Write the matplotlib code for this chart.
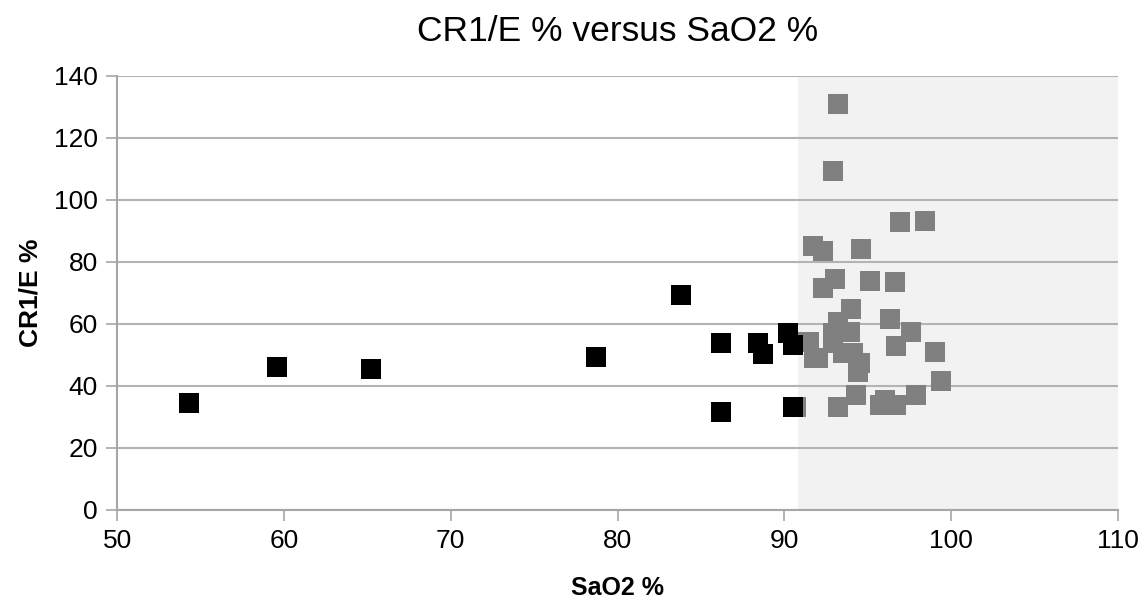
import matplotlib
matplotlib.use("Agg")
import matplotlib.pyplot as plt

plt.rcParams['font.family'] = ['Liberation Sans', 'DejaVu Sans']

# Group with SaO2 <= ~90 (black)
low_sao2 = [54.3, 59.6, 65.2, 78.7, 83.8, 86.2, 88.4, 88.7, 90.2, 90.5, 86.2, 90.5]
low_cr1e = [34.5, 46.1, 45.5, 49.4, 69.2, 53.9, 53.9, 50.3, 57.1, 53.2, 31.6, 33.2]

# Group with SaO2 > ~90 (gray)
high_sao2 = [93.2, 92.9, 96.9, 98.4, 91.7, 92.3, 94.6, 93.0, 92.3, 95.1, 96.6,
             94.0, 93.2, 96.3, 93.9, 92.9, 97.6, 91.5, 92.9, 96.7, 92.0, 93.5,
             94.1, 94.5, 94.4, 99.0, 99.4, 94.3, 93.2, 96.0, 96.7, 97.9, 95.7,
             90.7, 91.3, 91.8]
high_cr1e = [131.0, 109.4, 92.9, 93.2, 85.2, 83.5, 84.2, 74.5, 71.6, 73.9, 73.5,
             64.8, 60.6, 61.6, 57.4, 57.0, 57.4, 54.2, 53.9, 52.9, 49.0, 50.6,
             50.6, 47.4, 44.5, 51.0, 41.6, 37.1, 33.2, 35.5, 33.9, 37.1, 33.9,
             33.2, 54.0, 49.0]

shade_start = 90.8
x_ticks = [50, 60, 70, 80, 90, 100, 110]
y_ticks = [0, 20, 40, 60, 80, 100, 120, 140]

fig = plt.figure(figsize=(11.48, 6.02), dpi=100)
ax = fig.add_axes([0.102, 0.153, 0.872, 0.721])

ax.axvspan(shade_start, 110, color='#f2f2f2', zorder=0, lw=0)
for yv in y_ticks:
    ax.axhline(yv, color='#b3b3b3', lw=1.5, zorder=1)

ax.plot(high_sao2, high_cr1e, linestyle='none', marker='s', markersize=14,
        color='#808080', markeredgewidth=0, zorder=3)
ax.plot(low_sao2, low_cr1e, linestyle='none', marker='s', markersize=14,
        color='#000000', markeredgewidth=0, zorder=4)

ax.set_xlim(50, 110)
ax.set_ylim(0, 140)
ax.set_xticks(x_ticks)
ax.set_yticks(y_ticks)
ax.tick_params(axis='both', labelsize=19, length=8, width=1.2, color='#a6a6a6',
               direction='out', pad=6)
for s in ['top', 'right']:
    ax.spines[s].set_visible(False)
for s in ['left', 'bottom']:
    ax.spines[s].set_color('#a6a6a6')
    ax.spines[s].set_linewidth(1.5)

ax.set_title('CR1/E % versus SaO2 %', fontsize=25.5, pad=25)
ax.set_xlabel('SaO2 %', fontsize=18, fontweight='bold', labelpad=16)
ax.set_ylabel('CR1/E %', fontsize=19, fontweight='bold', labelpad=8)

fig.savefig('out.png', dpi=100)
